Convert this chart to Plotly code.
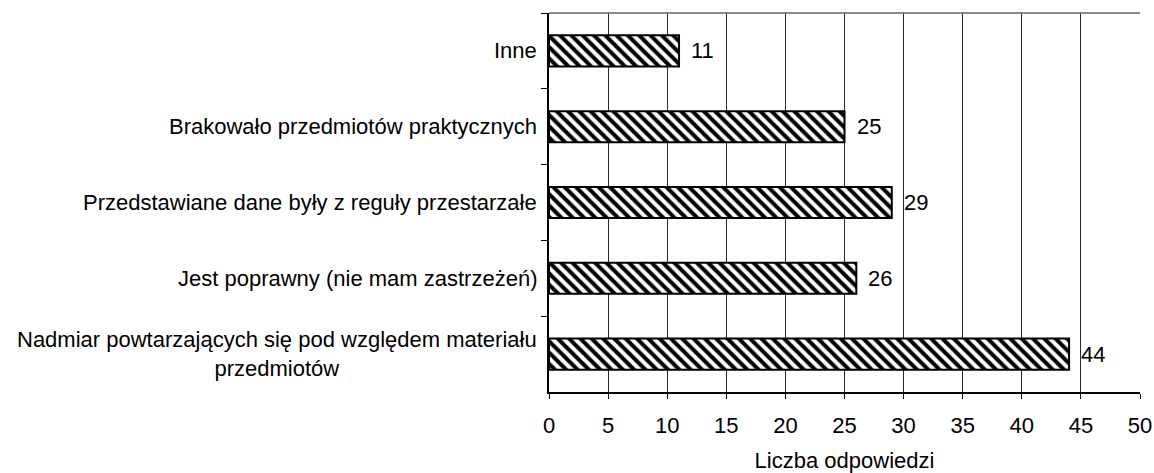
import plotly.graph_objects as go

categories = [
    "Inne",
    "Brakowało przedmiotów praktycznych",
    "Przedstawiane dane były z reguły przestarzałe",
    "Jest poprawny (nie mam zastrzeżeń)",
    "Nadmiar powtarzających się pod względem materiału<br>przedmiotów",
]
values = [11, 25, 29, 26, 44]
x_ticks = [0, 5, 10, 15, 20, 25, 30, 35, 40, 45, 50]
x_title = "Liczba odpowiedzi"

FONT = "Liberation Sans, Arial, sans-serif"
FS = 22

fig = go.Figure()
fig.add_trace(go.Bar(
    x=values,
    y=categories,
    orientation="h",
    width=0.41,
    marker=dict(
        color="white",
        line=dict(color="black", width=2),
        pattern=dict(shape="\\", fgcolor="black", bgcolor="white", size=8, solidity=0.5),
    ),
    hoverinfo="x+y",
))

annotations = []
for c, v in zip(categories, values):
    annotations.append(dict(
        x=v, y=c, xref="x", yref="y", text=str(v), showarrow=False,
        xanchor="left", xshift=10, font=dict(family=FONT, size=FS, color="black"),
    ))
    annotations.append(dict(
        x=0, y=c, xref="paper", yref="y", text=c, showarrow=False,
        xanchor="right", align="center", xshift=-10,
        font=dict(family=FONT, size=FS, color="black"),
    ))

fig.update_layout(
    template="none",
    width=1154, height=473,
    margin=dict(l=549, r=14, t=13, b=81, autoexpand=False),
    paper_bgcolor="white", plot_bgcolor="white",
    showlegend=False,
    font=dict(family=FONT, size=FS, color="black"),
    annotations=annotations,
    xaxis=dict(
        range=[0, 50], tickvals=x_ticks, ticktext=[str(t) for t in x_ticks],
        showgrid=True, gridcolor="#2a2a2a", gridwidth=1,
        showline=True, linecolor="black", linewidth=1.5,
        ticks="outside", ticklen=5, tickcolor="black", tickwidth=1,
        ticklabelstandoff=8,
        zeroline=False, automargin=False,
        title=dict(text=x_title, font=dict(family=FONT, size=FS), standoff=16),
        fixedrange=True,
    ),
    yaxis=dict(
        type="category", categoryorder="array", categoryarray=categories,
        autorange="reversed",
        showticklabels=False, tickson="boundaries",
        ticks="outside", ticklen=6, tickcolor="black", tickwidth=1,
        showline=True, linecolor="black", linewidth=1.5,
        showgrid=False, zeroline=False, automargin=False, fixedrange=True,
    ),
    shapes=[dict(type="line", xref="paper", yref="paper", x0=0, x1=1, y0=1, y1=1,
                 line=dict(color="#666666", width=1.5))],
)

fig.write_html(
    "out.html",
    config={"displayModeBar": False},
    post_script="document.body.style.margin='0';document.body.style.overflow='hidden';",
)
